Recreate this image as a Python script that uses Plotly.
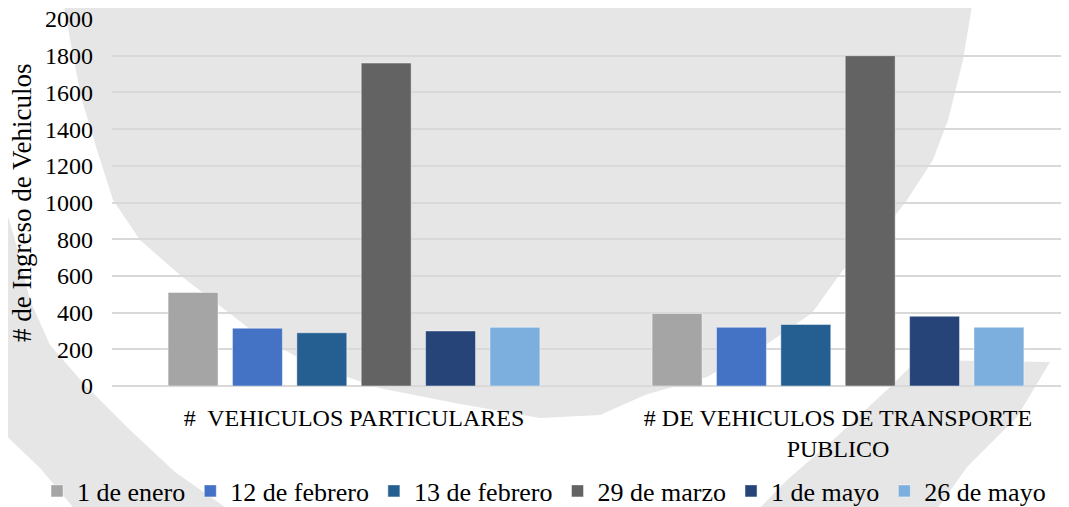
import plotly.graph_objects as go

# ---- data ----
categories = ["#\u00a0 VEHICULOS PARTICULARES", "# DE VEHICULOS DE TRANSPORTE<br>PUBLICO"]
series_names = ["1 de enero", "12 de febrero", "13 de febrero", "29 de marzo", "1 de mayo", "26 de mayo"]
v_enero1 = [510, 395]
v_feb12 = [315, 320]
v_feb13 = [290, 335]
v_mar29 = [1760, 1800]
v_may1 = [300, 380]
v_may26 = [320, 320]
series_values = [v_enero1, v_feb12, v_feb13, v_mar29, v_may1, v_may26]
colors = ["#a5a5a5", "#4472c4", "#255e91", "#636363", "#264478", "#7cafdd"]
y_ticks = list(range(0, 2001, 200))

# page body has an 8px margin; design in screen pixels and shift
OFF = 8
W, H = 1069 - OFF, 507 - OFF
L, T = 112 - OFF, 19 - OFF
PH = 367
B = H - T - PH
PW = W - L

fig = go.Figure()
for name, vals, col in zip(series_names, series_values, colors):
    fig.add_trace(go.Bar(
        x=categories, y=vals, name=name,
        marker=dict(color=col, line=dict(color="rgba(255,255,255,0.45)", width=1)),
    ))

# background watermark (decorative), screen pixel -> paper conversion
def to_paper(pts):
    return [((x - OFF) / W, (386 - y) / PH) for x, y in pts]

def path(pts):
    p = to_paper(pts)
    return "M " + " L ".join(f"{x:.4f},{y:.4f}" for x, y in p) + " Z"

main_shape = [(63, -5), (978, -5), (973, 0), (963, 60), (948, 120), (933, 160), (907, 200),
              (880, 235), (843, 270), (812, 313), (770, 342), (707, 377), (645, 395),
              (600, 415), (540, 418), (460, 404), (379, 388), (310, 364), (259, 336),
              (207, 296), (180, 275), (140, 240), (113, 200), (97, 150), (82, 100),
              (72, 50), (63, 0)]
left_band = [(0, 190), (15, 240), (30, 300), (50, 345), (85, 385), (130, 430),
             (175, 472), (232, 512), (77, 512), (40, 468), (0, 430)]
right_band = [(917, 360), (1050, 362), (1017, 417), (967, 467), (935, 512),
              (756, 512), (787, 480), (833, 440), (890, 387)]

shapes = []
for pts in (main_shape, left_band, right_band):
    shapes.append(dict(type="path", xref="paper", yref="paper", path=path(pts),
                       fillcolor="#e6e6e6", line=dict(width=0), layer="below"))

font_family = "Liberation Serif, Times New Roman, serif"

fig.update_layout(
    width=W, height=H,
    margin=dict(l=0, r=0, t=T, b=B, autoexpand=False),
    paper_bgcolor="white", plot_bgcolor="rgba(0,0,0,0)",
    barmode="group", bargap=0.202, bargroupgap=0.224,
    font=dict(family=font_family, size=24, color="#000000"),
    shapes=shapes,
    showlegend=True,
    legend=dict(orientation="h", xref="paper", yref="container",
                x=(544 - OFF) / W, xanchor="center", y=1 - (491 - OFF) / H, yanchor="middle",
                font=dict(size=26, family=font_family), itemwidth=30,
                tracegroupgap=0, bgcolor="rgba(0,0,0,0)", borderwidth=0),
    annotations=[dict(text="# de Ingreso de Vehiculos", textangle=-90,
                      xref="paper", yref="paper", x=(22 - OFF) / W, y=(386 - 203) / PH,
                      xanchor="center", yanchor="middle", showarrow=False,
                      font=dict(size=27, family=font_family))],
)
fig.update_xaxes(domain=[L / W, 1], range=[-0.5, -0.5 + PW / 484], showgrid=False,
                 showline=False, ticks="", tickfont=dict(size=24), zeroline=False,
                 ticklabelstandoff=15)
fig.update_yaxes(range=[0, 2000], tickvals=y_ticks, showgrid=True,
                 gridcolor="#d9d9d9", gridwidth=1.5, zeroline=True,
                 zerolinecolor="#d9d9d9", zerolinewidth=1.5, showline=False,
                 ticks="", ticklabelstandoff=18, tickfont=dict(size=24),
                 ticklabeloverflow="allow")

fig.write_html("out.html")
